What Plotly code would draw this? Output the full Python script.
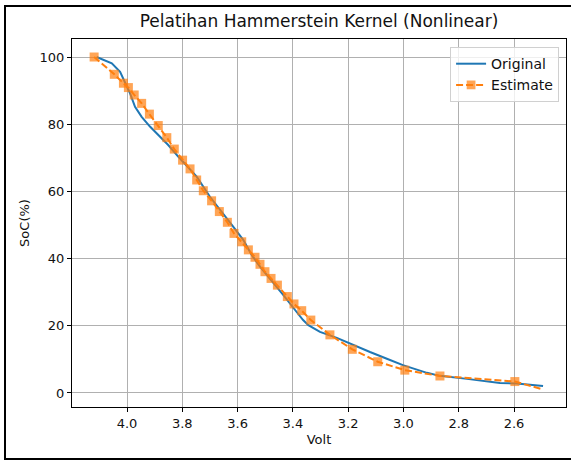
import plotly.graph_objects as go

# Original curve
orig_volt = [4.11, 4.055, 4.025, 4.007, 3.989, 3.971, 3.947, 3.917, 3.887, 3.851, 3.814, 3.778,
             3.748, 3.70, 3.652, 3.616, 3.579, 3.549, 3.519, 3.483, 3.453, 3.435, 3.392, 3.363,
             3.344, 3.302, 3.241, 3.183, 3.121, 3.06, 3.002, 2.915, 2.868, 2.77, 2.651, 2.59, 2.495]
orig_soc = [100, 98.1, 95.6, 92.6, 89.2, 85.2, 82.2, 79.3, 76.8, 73.8, 70.3, 66.9,
            64.4, 58.4, 53.5, 49.5, 45.5, 41.1, 37.6, 34.1, 31.0, 29.2, 24.7, 21.7,
            20.2, 18.2, 16.4, 14.3, 12.2, 10.2, 8.3, 6.0, 5.1, 4.2, 3.0, 2.8, 2.1]

# Estimate curve
est_volt = [4.119, 4.046, 4.013, 3.995, 3.974, 3.947, 3.919, 3.887, 3.856, 3.829, 3.799, 3.772,
            3.748, 3.724, 3.694, 3.666, 3.637, 3.613, 3.585, 3.561, 3.537, 3.519, 3.501, 3.479,
            3.456, 3.420, 3.396, 3.368, 3.335, 3.266, 3.185, 3.093, 2.995, 2.868, 2.597, 2.497]
est_soc = [100, 94.85, 92.2, 90.9, 88.7, 86.2, 83.0, 79.6, 76.0, 72.6, 69.3, 66.7,
           63.4, 60.2, 57.2, 54.0, 50.8, 47.5, 45.0, 42.6, 40.4, 38.3, 36.1, 34.1,
           32.1, 28.7, 26.5, 24.5, 21.7, 17.3, 13.0, 9.3, 6.8, 5.06, 3.4, 1.1]

x_ticks = [4.0, 3.8, 3.6, 3.4, 3.2, 3.0, 2.8, 2.6]
x_tick_text = ["4.0", "3.8", "3.6", "3.4", "3.2", "3.0", "2.8", "2.6"]
y_ticks = [0, 20, 40, 60, 80, 100]

BLUE = "#1f77b4"
ORANGE = "#ff7f0e"
FONT = "DejaVu Sans"
TXT = "#111111"

marker_sizes = [9] * (len(est_volt) - 1) + [0]

fig = go.Figure()
fig.add_trace(go.Scatter(x=orig_volt, y=orig_soc, mode="lines", name="Original",
                         line=dict(color=BLUE, width=2)))
fig.add_trace(go.Scatter(x=est_volt, y=est_soc, mode="lines+markers", name="Estimate",
                         line=dict(color=ORANGE, width=2, dash="7px,3px"),
                         marker=dict(symbol="square", size=marker_sizes, color=ORANGE,
                                     line=dict(width=0))))

axis_common = dict(showline=True, linecolor="black", linewidth=1, mirror=True,
                   ticks="outside", ticklen=4, tickwidth=1, tickcolor="black",
                   showgrid=True, gridcolor="#b0b0b0", gridwidth=1, zeroline=False,
                   tickfont=dict(family=FONT, size=13, color=TXT))

fig.update_xaxes(range=[4.199, 2.412], tickvals=x_ticks, ticktext=x_tick_text,
                 title=dict(text="Volt", font=dict(family=FONT, size=13, color=TXT), standoff=5),
                 **axis_common)
fig.update_yaxes(range=[-4.17, 105.36], tickvals=y_ticks,
                 title=dict(text="SoC(%)", font=dict(family=FONT, size=13, color=TXT), standoff=7),
                 **axis_common)

fig.update_layout(
    width=571, height=461,
    margin=dict(l=72, r=5, t=39, b=54),
    paper_bgcolor="white", plot_bgcolor="white",
    title=dict(text="Pelatihan Hammerstein Kernel (Nonlinear)", x=(72 + 566) / 2 / 571,
               xanchor="center", y=1 - 21 / 461, yanchor="middle",
               font=dict(family=FONT, size=17, color=TXT)),
    legend=dict(x=0.986, y=0.978, xanchor="right", yanchor="top",
                bgcolor="rgba(255,255,255,0.8)", bordercolor="#d0d0d0", borderwidth=1,
                font=dict(family=FONT, size=14, color=TXT), itemwidth=30,
                tracegroupgap=2),
    showlegend=True,
    shapes=[dict(type="rect", xref="paper", yref="paper",
                 x0=(5 - 72) / 494, x1=(575 - 72) / 494,
                 y0=(407 - 459) / 368, y1=(407 - 6) / 368,
                 line=dict(color="black", width=2), fillcolor="rgba(0,0,0,0)", layer="above")],
)

fig.write_html("out.html", config={"displayModeBar": False},
               post_script="document.body.style.margin='0px';")
